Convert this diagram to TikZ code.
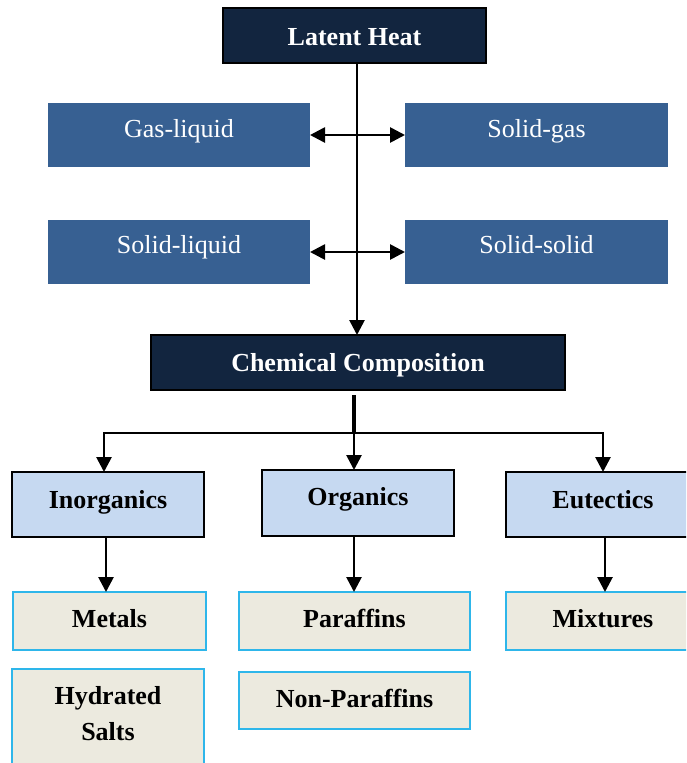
\documentclass[tikz,border=0pt]{standalone}
\usepackage{fontspec}
\setmainfont{Liberation Serif}
\usetikzlibrary{arrows.meta}
\definecolor{navy}{HTML}{12253F}
\definecolor{midblue}{HTML}{376092}
\definecolor{lightblue}{HTML}{C6D9F1}
\definecolor{beige}{HTML}{ECEADF}
\definecolor{cyanline}{HTML}{2EB6EA}
\tikzset{
  box/.style={rectangle, inner sep=0pt, outer sep=0pt},
  navybox/.style={box, fill=navy, draw=black, line width=1.5pt},
  midbox/.style={box, fill=midblue},
  catbox/.style={box, fill=lightblue, draw=black, line width=1.5pt},
  leafbox/.style={box, fill=beige, draw=cyanline, line width=1.2pt},
  wbold/.style={anchor=base, text=white, font=\fontsize{26}{30}\selectfont\bfseries, inner sep=0pt},
  wreg/.style={anchor=base, text=white, font=\fontsize{26}{30}\selectfont, inner sep=0pt},
  kbold/.style={anchor=base, text=black, font=\fontsize{26}{30}\selectfont\bfseries, inner sep=0pt, align=center},
  conn/.style={line width=2.7pt, draw=black},
  tip/.style={-{Triangle[width=15pt,length=15pt]}},
  dtip/.style={{Triangle[width=15pt,length=15pt]}-{Triangle[width=15pt,length=15pt]}},
}
\begin{document}
\begin{tikzpicture}[x=1pt,y=-1pt]
\clip (0,0) rectangle (686,763);
\fill[white] (0,0) rectangle (686,763);
% top level
\node[navybox, minimum width=263pt, minimum height=55pt] (lh) at (354.5,35.5) {};
\node[wbold] (lht) at (354.5,45) {Latent Heat};
% phase boxes
\node[midbox, minimum width=262pt, minimum height=64pt] (gl) at (179,135) {};
\node[wreg] (glt) at (179,137) {Gas-liquid};
\node[midbox, minimum width=263pt, minimum height=64pt] (sg) at (536.5,135) {};
\node[wreg] (sgt) at (536.5,137) {Solid-gas};
\node[midbox, minimum width=262pt, minimum height=64pt] (sl) at (179,252) {};
\node[wreg] (slt) at (179,253) {Solid-liquid};
\node[midbox, minimum width=263pt, minimum height=64pt] (ss) at (536.5,252) {};
\node[wreg] (sst) at (536.5,253) {Solid-solid};
% chemical composition
\node[navybox, minimum width=414pt, minimum height=55pt] (cc) at (358,362.5) {};
\node[wbold] (cct) at (358,371) {Chemical Composition};
% categories
\node[catbox, minimum width=192pt, minimum height=65pt] (inorg) at (108,504.5) {};
\node[kbold] (inorgt) at (108,508) {Inorganics};
\node[catbox, minimum width=192pt, minimum height=66pt] (org) at (358,503) {};
\node[kbold] (orgt) at (358,505) {Organics};
\node[catbox, minimum width=194pt, minimum height=65pt] (eut) at (603,504.5) {};
\node[kbold] (eutt) at (603,508) {Eutectics};
% leaves
\node[leafbox, minimum width=193pt, minimum height=58pt] (met) at (109.5,621) {};
\node[kbold] (mett) at (109.5,627) {Metals};
\node[leafbox, minimum width=231pt, minimum height=58pt] (par) at (354.5,621) {};
\node[kbold] (part) at (354.5,627) {Paraffins};
\node[leafbox, minimum width=194pt, minimum height=58pt] (mix) at (603,621) {};
\node[kbold] (mixt) at (603,627) {Mixtures};
\node[leafbox, minimum width=192pt, minimum height=120pt] (hyd) at (108,729) {};
\node[kbold] (hydt1) at (108,704) {Hydrated};
\node[kbold] (hydt2) at (108,740) {Salts};
\node[leafbox, minimum width=231pt, minimum height=57pt] (nonp) at (354.5,700.5) {};
\node[kbold] (nonpt) at (354.5,707) {Non-Paraffins};
% connectors
\coordinate (vx) at (357,0);
\draw[conn, tip] (lh.south -| vx) -- (cc.north -| vx);
\draw[conn, dtip] (gl.east) -- (sg.west);
\draw[conn, dtip] (sl.east) -- (ss.west);
\coordinate (stem) at (354,395);
\coordinate (junc) at (354,433);
\coordinate (jl) at (104,433);
\coordinate (jr) at (603,433);
\draw[conn, line width=3.4pt] (stem) -- (junc);
\draw[conn, line cap=rect] (jl) -- (jr);
\draw[conn, tip] (jl) -- (inorg.north -| jl);
\draw[conn, tip] (junc) -- (org.north -| junc);
\draw[conn, tip] (jr) -- (eut.north -| jr);
\coordinate (c1) at (106,0);
\coordinate (c2) at (354,0);
\coordinate (c3) at (605,0);
\draw[conn, tip] (inorg.south -| c1) -- (met.north -| c1);
\draw[conn, tip] (org.south -| c2) -- (par.north -| c2);
\draw[conn, tip] (eut.south -| c3) -- (mix.north -| c3);
\end{tikzpicture}
\end{document}
